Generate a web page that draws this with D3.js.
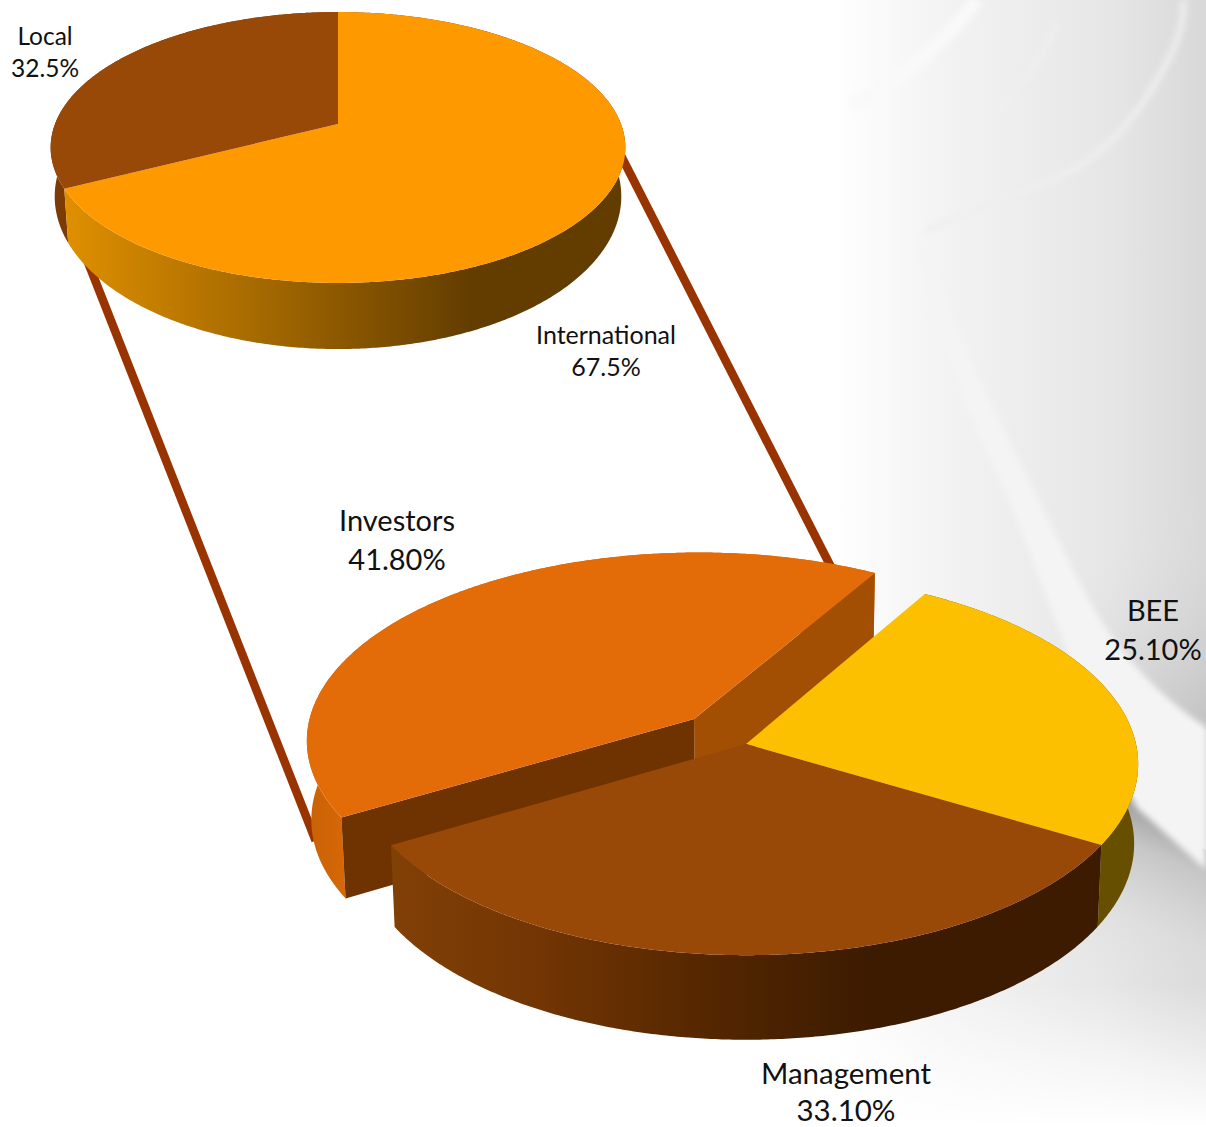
<!DOCTYPE html>
<html>
<head>
<meta charset="utf-8">
<style>
html,body{margin:0;padding:0;background:#fff}
svg{display:block}
text{font-family:Lato,"Open Sans",sans-serif;fill:#111;text-anchor:middle}
</style>
<script src="https://cdnjs.cloudflare.com/ajax/libs/d3/7.8.5/d3.min.js"></script>
</head>
<body>
<svg id="chart" width="1206" height="1127" viewBox="0 0 1206 1127"></svg>
<script>
// Shareholding breakdown: two tilted 3D pies joined by connector bars.
const ownerCategories = ["International", "Local"];
const ownerValues = [67.5, 32.5];
const ownerLabels = ["67.5%", "32.5%"];
const ownerColors = ["#ff9900", "#984807"];

const holderCategories = ["BEE", "Management", "Investors"];
const holderValues = [25.1, 33.1, 41.8];
const holderLabels = ["25.10%", "33.10%", "41.80%"];
const holderColors = ["#fcc000", "#984807", "#e36c09"];

const svg = d3.select("#chart");
const defs = svg.append("defs");
const rad = Math.PI / 180;

function hGradient(id, x1, x2, stops) {
  const g = defs.append("linearGradient").attr("id", id)
    .attr("gradientUnits", "userSpaceOnUse")
    .attr("x1", x1).attr("x2", x2).attr("y1", 0).attr("y2", 0);
  stops.forEach(s => g.append("stop").attr("offset", s[0]).attr("stop-color", s[1]));
}

/* ---------- backdrop ---------- */
hGradient("bgFade", 830, 1206, [[0, "#ffffff"], [0.3, "#f3f3f3"], [0.75, "#e6e6e6"], [1, "#d8d8d8"]]);
const soft = defs.append("filter").attr("id", "soft").attr("x", "-20%").attr("y", "-20%").attr("width", "140%").attr("height", "140%");
soft.append("feGaussianBlur").attr("stdDeviation", 3);

const shade = defs.append("linearGradient").attr("id", "shade")
  .attr("gradientUnits", "userSpaceOnUse")
  .attr("x1", 1175).attr("y1", 825).attr("x2", 1100).attr("y2", 1000);
[[0, "#a4a4a4", 1], [0.18, "#c4c4c4", 0.9], [0.55, "#dcdcdc", 0.6], [1, "#e8e8e8", 0]]
  .forEach(s => shade.append("stop").attr("offset", s[0]).attr("stop-color", s[1]).attr("stop-opacity", s[2]));

const edgeDark = defs.append("linearGradient").attr("id", "edgeDark")
  .attr("gradientUnits", "userSpaceOnUse")
  .attr("x1", 1206).attr("y1", 720).attr("x2", 1090).attr("y2", 560);
[[0, "#c4c4c4", 1], [1, "#e2e2e2", 0]]
  .forEach(s => edgeDark.append("stop").attr("offset", s[0]).attr("stop-color", s[1]).attr("stop-opacity", s[2]));

const bottomFade = defs.append("linearGradient").attr("id", "bottomFade")
  .attr("x1", 0).attr("x2", 0).attr("y1", 0).attr("y2", 1);
[[0, 0], [0.55, 0.6], [1, 1]]
  .forEach(s => bottomFade.append("stop").attr("offset", s[0]).attr("stop-color", "#fff").attr("stop-opacity", s[1]));

const backdrop = svg.append("g");
backdrop.append("rect").attr("width", 1206).attr("height", 1127).attr("fill", "url(#bgFade)");
backdrop.append("path").attr("d", "M1060 520 L1206 500 L1206 730 L1120 690 Z").attr("fill", "url(#edgeDark)");
backdrop.append("path").attr("d", "M1100 770 L1206 850 L1206 1127 L830 1127 L830 800 Z").attr("fill", "url(#shade)");
// pale ribbon sweeping down to the right edge
backdrop.append("path")
  .attr("d", "M918 235 C925 300 960 400 1000 480 C1030 545 1080 700 1137 808 L1206 870 L1206 727 C1150 690 1105 640 1068 560 C1030 480 975 380 946 300 C938 275 930 250 918 235 Z")
  .attr("fill", "#f4f4f4").attr("filter", "url(#soft)");
backdrop.append("path")
  .attr("d", "M1183 0 C1186 30 1170 60 1147 96 C1125 130 1105 150 1075 168 C1040 188 980 205 925 232")
  .attr("fill", "none").attr("stroke", "#efefef").attr("stroke-width", 6).attr("filter", "url(#soft)");
backdrop.append("path")
  .attr("d", "M977 0 C950 35 900 85 850 105")
  .attr("fill", "none").attr("stroke", "#f9f9f9").attr("stroke-width", 14).attr("filter", "url(#soft)");
backdrop.append("path")
  .attr("d", "M1057 23 C1040 60 1020 95 975 130")
  .attr("fill", "none").attr("stroke", "#f0f0f0").attr("stroke-width", 4).attr("filter", "url(#soft)");
backdrop.append("rect").attr("x", 800).attr("y", 985).attr("width", 406).attr("height", 142).attr("fill", "url(#bottomFade)");

/* ---------- tilted disc projection ---------- */
// A point on the unit disc maps through a perspective divide, then the x/y scales.
function makePlane(cx, cy, a, b, k) {
  const sx = d3.scaleLinear().domain([-1, 1]).range([cx - a, cx + a]);
  const sy = d3.scaleLinear().domain([-1, 1]).range([cy - b, cy + b]);
  return (u, v) => { const w = 1 + k * v; return [sx(u / w), sy(v / w)]; };
}
function rim(plane, from, to, off, r) {
  const n = Math.max(2, Math.ceil(Math.abs(to - from) / (0.5 * rad)));
  return d3.range(n + 1).map(i => {
    const t = from + (to - from) * i / n;
    return plane(r * Math.sin(t) + off[0], -r * Math.cos(t) + off[1]);
  });
}
const line = d3.line();
const closed = pts => line(pts) + "Z";

function wall(layer, top, low, arc, off, fill) {
  const a = rim(top, arc.startAngle, arc.endAngle, off, 1);
  const b = rim(low, arc.startAngle, arc.endAngle, off, 1).reverse();
  layer.append("path").attr("d", closed(a.concat(b))).attr("fill", fill);
}
function cutFace(layer, top, low, angle, off, fill) {
  const rimT = plane => plane(Math.sin(angle) + off[0], -Math.cos(angle) + off[1]);
  const hub = plane => plane(off[0], off[1]);
  layer.append("path")
    .attr("d", closed([hub(top), rimT(top), rimT(low), hub(low)]))
    .attr("fill", fill);
}
function face(layer, top, arc, off, fill) {
  const pts = [top(off[0], off[1])].concat(rim(top, arc.startAngle, arc.endAngle, off, 1));
  layer.append("path").attr("d", closed(pts)).attr("fill", fill);
}

const upperTop = makePlane(338, 124, 283, 131.4, -0.1734);
const upperLow = makePlane(338, 170, 279, 148, -0.1734);
const lowerTop = makePlane(746, 744, 390, 189, -0.105);
const lowerLow = makePlane(746, 823, 386, 194, -0.105);

const ownerPie = d3.pie().sort(null).startAngle(0).endAngle(2 * Math.PI)(ownerValues);
const holderPie = d3.pie().sort(null).startAngle(30 * rad).endAngle(390 * rad)(holderValues);

// Investors slice is pulled out along its bisector
const mid = (holderPie[2].startAngle + holderPie[2].endAngle) / 2;
const pull = [0.19 * Math.sin(mid), -0.19 * Math.cos(mid)];
const none = [0, 0];

/* ---------- connector bars ---------- */
const bars = svg.append("g").attr("fill", "none").attr("stroke", "#993300").attr("stroke-width", 8.5);
const onDisc = (plane, deg, off, r) => plane(r * Math.sin(deg * rad) + off[0], -r * Math.cos(deg * rad) + off[1]);
bars.append("path").attr("d", line([onDisc(upperTop, 100, none, 0.97), onDisc(lowerTop, 22.6, pull, 0.98)]));
bars.append("path").attr("d", line([onDisc(upperLow, 237, none, 0.978), onDisc(lowerLow, 257, pull, 0.995)]));

/* ---------- upper pie ---------- */
hGradient("wallIntl", 62, 470, [[0, "#e09000"], [0.45, "#a96c00"], [1, "#633d00"]]);
hGradient("wallMgmt", 395, 870, [[0, "#804006"], [0.3, "#733504"], [0.65, "#552700"], [1, "#3c1b00"]]);
hGradient("wallInv", 308, 348, [[0, "#c86206"], [1, "#d86807"]]);

const upper = svg.append("g");
wall(upper, upperTop, upperLow, ownerPie[1], none, "#7c3a04");
wall(upper, upperTop, upperLow, ownerPie[0], none, "url(#wallIntl)");
ownerPie.forEach((d, i) => face(upper, upperTop, d, none, ownerColors[i]));

/* ---------- lower pie ---------- */
const lower = svg.append("g");
wall(lower, lowerTop, lowerLow, holderPie[2], pull, "url(#wallInv)");
cutFace(lower, lowerTop, lowerLow, holderPie[2].endAngle, pull, "#a34f03");
cutFace(lower, lowerTop, lowerLow, holderPie[2].startAngle, pull, "#6f3302");
face(lower, lowerTop, holderPie[2], pull, holderColors[2]);
wall(lower, lowerTop, lowerLow, holderPie[0], none, "#665000");
wall(lower, lowerTop, lowerLow, holderPie[1], none, "url(#wallMgmt)");
face(lower, lowerTop, holderPie[0], none, holderColors[0]);
face(lower, lowerTop, holderPie[1], none, holderColors[1]);

/* ---------- labels ---------- */
function label(x, y, size, gap, name, value) {
  const t = svg.append("text").attr("font-size", size);
  t.append("tspan").attr("x", x).attr("y", y).text(name);
  t.append("tspan").attr("x", x).attr("y", y + gap).text(value);
}
label(45, 45, 24.5, 32, ownerCategories[1], ownerLabels[1]);
label(606, 344, 25, 32, ownerCategories[0], ownerLabels[0]);
label(397, 531, 29, 39, holderCategories[2], holderLabels[2]);
label(1153, 621, 29, 39, holderCategories[0], holderLabels[0]);
label(846, 1084, 29.5, 37, holderCategories[1], holderLabels[1]);
</script>
</body>
</html>
